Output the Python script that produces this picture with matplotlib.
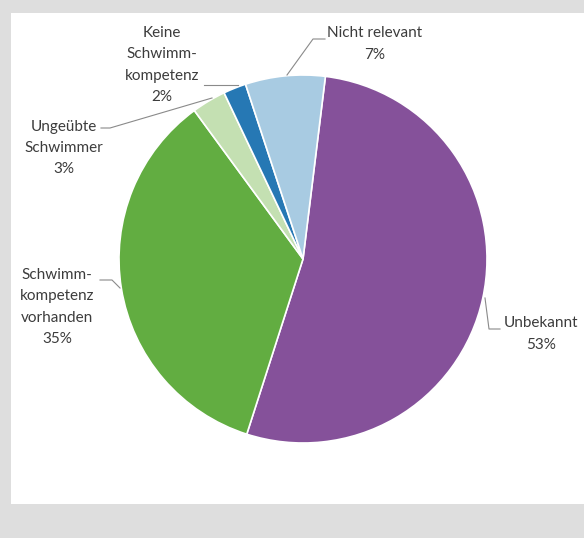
import matplotlib
matplotlib.use("Agg")
import matplotlib.pyplot as plt
from matplotlib.patches import Rectangle

# ---------- Daten ----------
labels = ["Unbekannt", "Schwimm-\nkompetenz\nvorhanden", "Ungeübte\nSchwimmer",
          "Keine\nSchwimm-\nkompetenz", "Nicht relevant"]
values = [53, 35, 3, 2, 7]
colors = ["#85519a", "#62ad41", "#c4e0b2", "#2678b4", "#a8cbe2"]

W, H = 584, 538
plt.rcParams["font.family"] = ["Lato", "DejaVu Sans"]

fig = plt.figure(figsize=(W / 100, H / 100), dpi=100, facecolor="#dedede")
ax = fig.add_axes([0, 0, 1, 1])

def Y(py):
    # Pixelzeile (von oben) -> Datenkoordinate (von unten)
    return H - py

# weisses Panel
ax.add_patch(Rectangle((11, Y(504)), W - 11, 504 - 13, facecolor="white",
                       edgecolor="none", zorder=0))

ax.pie(values, colors=colors, startangle=83, counterclock=False,
       center=(303, Y(259)), radius=184,
       wedgeprops=dict(edgecolor="white", linewidth=1.2))

ax.set_xlim(0, W)
ax.set_ylim(0, H)
ax.set_aspect("equal")
ax.axis("off")

# ---------- Beschriftungen ----------
txt = dict(fontsize=11, color="#3c3c3c", ha="center", va="center",
           linespacing=1.65)
line = dict(color="#8a8a8a", lw=0.8)

ax.text(541, Y(334), f"{labels[0]}\n{values[0]}%", **txt)
ax.plot([485, 489, 500], [Y(298), Y(329), Y(329)], **line)

ax.text(57, Y(307), f"{labels[1]}\n{values[1]}%", **txt)
ax.plot([100, 112, 120], [Y(280), Y(280), Y(288)], **line)

ax.text(64, Y(148), f"{labels[2]}\n{values[2]}%", **txt)
ax.plot([101, 110, 212], [Y(128), Y(128), Y(98)], **line)

ax.text(162, Y(65), f"{labels[3]}\n{values[3]}%", **txt)
ax.plot([204, 238], [Y(85), Y(85)], **line)

ax.text(375, Y(44), f"{labels[4]}\n{values[4]}%", **txt)
ax.plot([287, 313, 325], [Y(75), Y(39), Y(39)], **line)

fig.savefig("out.png", dpi=100, facecolor=fig.get_facecolor())
